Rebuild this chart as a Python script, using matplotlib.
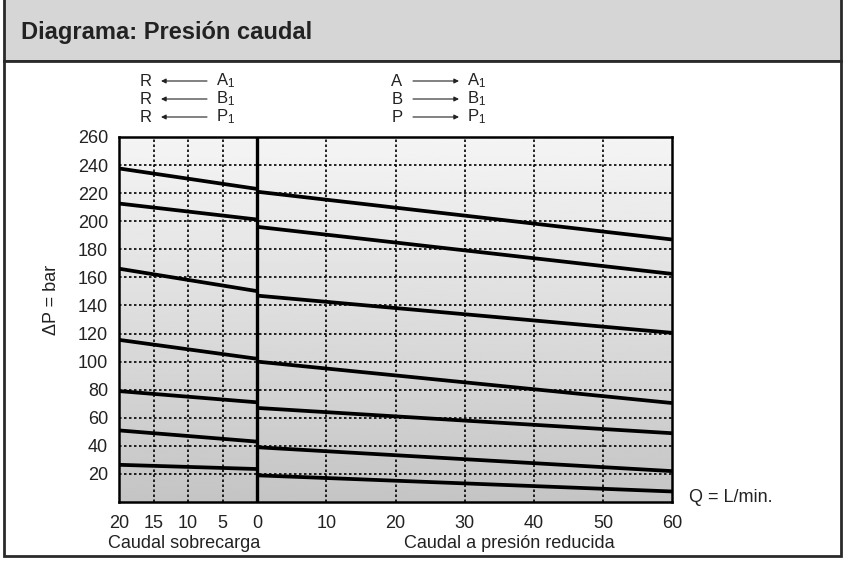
import numpy as np
import matplotlib
matplotlib.use("Agg")
import matplotlib.pyplot as plt
from matplotlib.patches import Rectangle

plt.rcParams['font.family'] = ['Liberation Sans', 'DejaVu Sans']
plt.rcParams['mathtext.default'] = 'regular'

# data: flow (L/min) and pressure drop (bar) for each curve
left_q = [20, 0]          # caudal sobrecarga (drawn to the left of 0)
right_q = [0, 60]         # caudal a presion reducida
left_dp = [[237.6, 223.0], [212.6, 201.2], [166.2, 150.2], [115.5, 102.0],
           [79.0, 71.0], [51.0, 43.0], [26.5, 23.5]]
right_dp = [[221.0, 187.0], [196.0, 162.5], [147.0, 120.5], [100.0, 70.5],
            [67.0, 49.0], [39.0, 22.0], [19.0, 7.5]]

x_ticks = [-20, -15, -10, -5, 0, 10, 20, 30, 40, 50, 60]
x_labels = [str(abs(t)) for t in x_ticks]
y_ticks = list(range(20, 261, 20))

left_arrows = [("R", "A"), ("R", "B"), ("R", "P")]
right_arrows = [("A", "A"), ("B", "B"), ("P", "P")]

W, H = 843, 562
fig = plt.figure(figsize=(W / 100, H / 100), dpi=100)


def fx(px):
    return px / W


def fy(py):
    return 1 - py / H


# frame and header
dark = '#2a2a2a'
txt = '#222222'
fig.patches.append(Rectangle((fx(4), fy(61)), fx(837), 1 - fy(61) + 0.01, transform=fig.transFigure,
                             facecolor='#d6d6d6', edgecolor=dark, lw=2, zorder=-10))
fig.patches.append(Rectangle((fx(4), fy(556)), fx(837), fy(61) - fy(556), transform=fig.transFigure,
                             facecolor='white', edgecolor=dark, lw=2, zorder=-10))
fig.text(fx(21), fy(32), "Diagrama: Presión caudal", fontsize=17, fontweight='bold',
         color=txt, va='center', ha='left')

ax = fig.add_axes([fx(119), fy(502), fx(672) - fx(119), fy(137) - fy(502)])
ax.set_zorder(2)
ax.set_xlim(-20, 60)
ax.set_ylim(0, 260)

# gradient background, light at top and grey at bottom
ax.imshow(np.linspace(0.77, 0.96, 256).reshape(-1, 1), extent=[-20, 60, 0, 260], aspect='auto',
          cmap='gray', vmin=0, vmax=1, origin='lower', zorder=0)

for x in x_ticks[1:-1]:
    if x != 0:
        ax.axvline(x, color='black', lw=1.2, ls=(0, (1.5, 1.5)), zorder=1)
for y in y_ticks[:-1]:
    ax.axhline(y, color='black', lw=1.2, ls=(0, (1.5, 1.5)), zorder=1)
ax.axvline(0, color='black', lw=2.4, zorder=3)

for dp in left_dp:
    ax.plot([-q for q in left_q], dp, color='black', lw=2.7, zorder=2, solid_capstyle='butt')
for dp in right_dp:
    ax.plot(right_q, dp, color='black', lw=2.7, zorder=2, solid_capstyle='butt')

ax.set_xticks(x_ticks)
ax.set_xticklabels(x_labels)
ax.set_yticks(y_ticks)
ax.tick_params(length=0, labelsize=13, labelcolor=txt)
ax.tick_params(axis='x', pad=9)
ax.tick_params(axis='y', pad=8)
for s in ax.spines.values():
    s.set_linewidth(1.8)
    s.set_color('black')

fig.text(fx(52), fy(300), "ΔP = bar", rotation=90, fontsize=13, color=txt,
         ha='center', va='center')
fig.text(fx(689), fy(497), "Q = L/min.", fontsize=13, color=txt, ha='left', va='center')
fig.text(fx(184), fy(543), "Caudal sobrecarga", fontsize=13, color=txt, ha='center', va='center')
fig.text(fx(509), fy(543), "Caudal a presión reducida", fontsize=13, color=txt,
         ha='center', va='center')

# flow direction notes above the chart
rows = [81, 99, 117]
arrow_kw = dict(arrowstyle='-|>', color=txt, lw=0.8, mutation_scale=7, shrinkA=0, shrinkB=0)
for (a, b), yy in zip(left_arrows, rows):
    fig.text(fx(146), fy(yy), a, fontsize=12, ha='center', va='center', color=txt)
    fig.text(fx(216), fy(yy), b + "$_1$", fontsize=12, ha='left', va='center', color=txt)
    ax.annotate('', xy=(fx(161), fy(yy)), xytext=(fx(207), fy(yy)),
                xycoords='figure fraction', textcoords='figure fraction', arrowprops=arrow_kw,
                annotation_clip=False)
for (a, b), yy in zip(right_arrows, rows):
    fig.text(fx(397), fy(yy), a, fontsize=12, ha='center', va='center', color=txt)
    fig.text(fx(467), fy(yy), b + "$_1$", fontsize=12, ha='left', va='center', color=txt)
    ax.annotate('', xy=(fx(459), fy(yy)), xytext=(fx(413), fy(yy)),
                xycoords='figure fraction', textcoords='figure fraction', arrowprops=arrow_kw,
                annotation_clip=False)

fig.savefig("out.png", dpi=100)
